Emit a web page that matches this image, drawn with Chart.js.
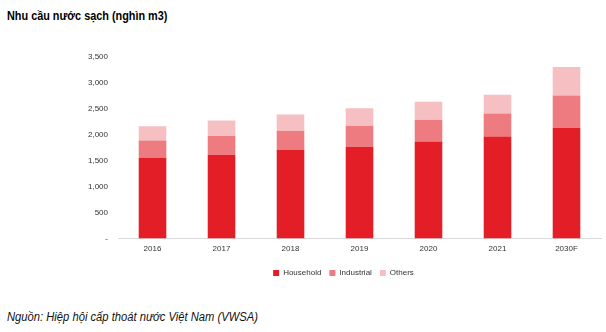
<!DOCTYPE html>
<html>
<head>
<meta charset="utf-8">
<script src="https://cdn.jsdelivr.net/npm/chart.js@4.4.1/dist/chart.umd.min.js"></script>
<style>
  body { margin: 0; background: #fff; width: 606px; height: 332px; overflow: hidden; position: relative;
         font-family: 'Liberation Sans', Arial, sans-serif; }
  #title { position: absolute; left: 7px; top: 9px; font-size: 12px; font-weight: bold; color: #000;
           transform: scaleX(0.905); transform-origin: left top; white-space: nowrap; }
  #source { position: absolute; left: 7px; top: 310px; font-size: 12px; font-style: italic; color: #111;
            transform: scaleX(0.934); transform-origin: left top; white-space: nowrap; }
  #wrap { position: absolute; left: 0; top: 40px; width: 606px; height: 254px; }
</style>
</head>
<body>
<div id="title">Nhu cầu nước sạch (nghìn m3)</div>
<div id="wrap"><canvas id="waterChart"></canvas></div>
<div id="source">Nguồn: Hiệp hội cấp thoát nước Việt Nam (VWSA)</div>
<script>
const years = ['2016', '2017', '2018', '2019', '2020', '2021', '2030F'];
const household = [1550, 1615, 1705, 1770, 1870, 1965, 2130];
const industrial = [340, 360, 370, 405, 420, 445, 625];
const others = [275, 300, 315, 335, 345, 360, 550];

const tickFont = { family: "'Liberation Sans', Arial, sans-serif", size: 8 };

const ctx = document.getElementById('waterChart');
new Chart(ctx, {
    type: 'bar',
    data: {
        labels: years,
        datasets: [
            { label: 'Household', data: household, backgroundColor: '#e31e26' },
            { label: 'Industrial', data: industrial, backgroundColor: '#ee7b80' },
            { label: 'Others', data: others, backgroundColor: '#f6c0c3' }
        ]
    },
    options: {
        responsive: true,
        maintainAspectRatio: false,
        animation: false,
        datasets: { bar: { categoryPercentage: 1, barPercentage: 0.4 } },
        layout: { padding: { left: 86, right: 5, top: 17, bottom: 7 } },
        scales: {
            x: {
                stacked: true,
                grid: { display: false, drawTicks: false, tickLength: 0 },
                border: { color: '#d9d9d9', width: 1 },
                ticks: { color: '#333', font: tickFont, padding: 6 },
                afterFit: scale => { scale.height += 1; }   // room between year labels and legend
            },
            y: {
                stacked: true,
                min: 0,
                max: 3500,
                grid: { display: false },
                border: { display: false },
                ticks: {
                    stepSize: 500,
                    color: '#333',
                    padding: 2,
                    font: tickFont,
                    callback: v => v === 0 ? '-' : v.toLocaleString('en-US')
                }
            }
        },
        plugins: {
            legend: {
                position: 'bottom',
                labels: {
                    boxWidth: 6, boxHeight: 6, padding: 8,
                    color: '#333',
                    font: tickFont
                }
            },
            tooltip: { enabled: false }
        }
    }
});
</script>
</body>
</html>
